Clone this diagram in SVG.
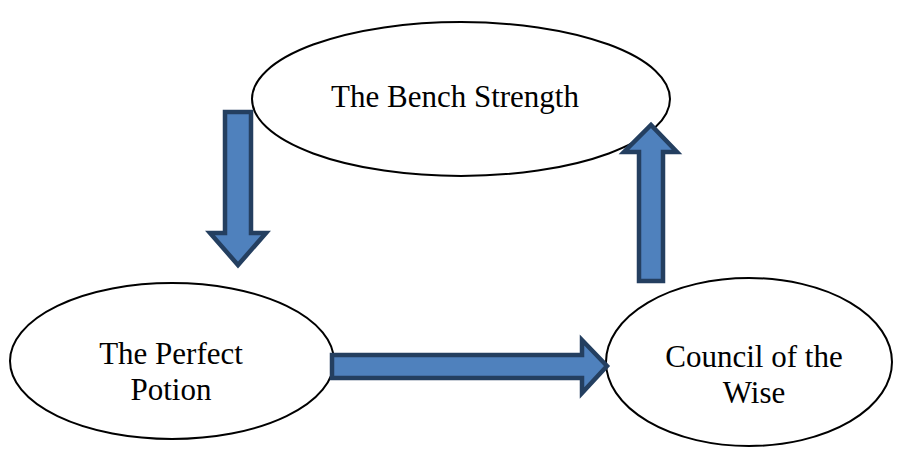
<svg xmlns="http://www.w3.org/2000/svg" width="898" height="453" viewBox="0 0 898 453">
<style>
.node{fill:#fff;stroke:#000;stroke-width:2}
.lbl{font-family:"Liberation Serif","Times New Roman",serif;font-size:31px;fill:#000;text-anchor:middle}
.arr{fill:#4f81bd;stroke:#243f60;stroke-width:4.5;stroke-linejoin:miter}
</style>
<rect width="898" height="453" fill="#fff"/>
<g id="bench">
<ellipse class="node" cx="461" cy="99" rx="209" ry="77"/>
<text class="lbl" x="455" y="107">The Bench Strength</text>
</g>
<g id="potion">
<ellipse class="node" cx="172" cy="361" rx="162" ry="78"/>
<text class="lbl" x="171" y="364">The Perfect</text>
<text class="lbl" x="171" y="400">Potion</text>
</g>
<g id="council">
<ellipse class="node" cx="749" cy="362" rx="143" ry="84"/>
<text class="lbl" x="754" y="367">Council of the</text>
<text class="lbl" x="754" y="403">Wise</text>
</g>
<g id="connectors">
<polygon class="arr" points="225,112 251,112 251,233 266,233 238,265 210,233 225,233"/>
<polygon class="arr" points="332,355 582,355 582,340 607,366 582,393 582,378 332,378"/>
<polygon class="arr" points="639,281 663,281 663,152 677,152 651,125 624,152 639,152"/>
</g>
</svg>
